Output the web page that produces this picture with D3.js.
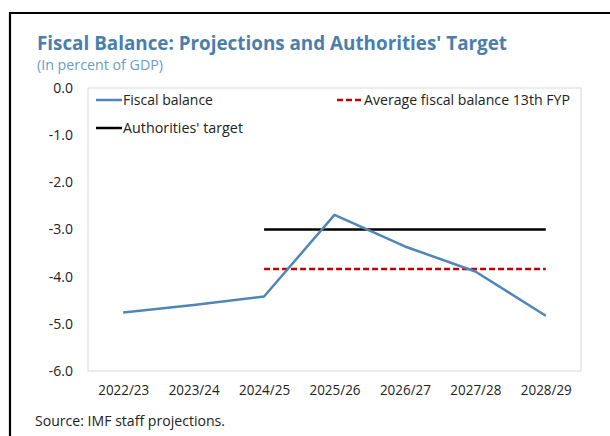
<!DOCTYPE html>
<html><head><meta charset="utf-8">
<script src="https://cdn.jsdelivr.net/npm/d3@7"></script>
<style>body{margin:0;background:#fff;} svg{display:block;}</style>
</head><body>
<svg id="c" width="610" height="436"></svg>
<script>
const categories = ["2022/23","2023/24","2024/25","2025/26","2026/27","2027/28","2028/29"];
const fiscalBalance = [-4.76, -4.6, -4.42, -2.69, -3.36, -3.89, -4.83];
const targetCats = ["2024/25","2025/26","2026/27","2027/28","2028/29"];
const authoritiesTarget = [-3.0, -3.0, -3.0, -3.0, -3.0];
const average13thFYP = [-3.84, -3.84, -3.84, -3.84, -3.84];
const yTicks = [0, -1, -2, -3, -4, -5, -6];
const seriesNames = ["Fiscal balance", "Authorities' target", "Average fiscal balance 13th FYP"];

const svg = d3.select("#c");
const font = "'Open Sans', 'Noto Sans', sans-serif";
const L = 88, R = 581, T = 88, B = 371;

// frame
svg.append("path").attr("d", "M10,440 L10,13 L612,13").attr("fill","none").attr("stroke","#000").attr("stroke-width",2.2);

// titles
svg.append("text").attr("x",37).attr("y",50).attr("font-family",font).attr("font-weight",700)
  .attr("font-size",19).attr("fill","#4a7eae").attr("textLength",470).attr("lengthAdjust","spacingAndGlyphs")
  .text("Fiscal Balance: Projections and Authorities' Target");
svg.append("text").attr("x",37).attr("y",70).attr("font-family",font)
  .attr("font-size",14).attr("fill","#6b9bc8").attr("textLength",126).attr("lengthAdjust","spacingAndGlyphs")
  .text("(In percent of GDP)");

// plot area
svg.append("rect").attr("x",L).attr("y",T).attr("width",R-L).attr("height",B-T)
  .attr("fill","#fff").attr("stroke","#d9d9d9").attr("stroke-width",1);

const x = d3.scalePoint().domain(categories).range([L, R]).padding(0.5);
const y = d3.scaleLinear().domain([-6, 0]).range([B, T]);

// y axis
const ya = svg.append("g").attr("transform",`translate(${L},0)`)
  .call(d3.axisLeft(y).tickValues(yTicks).tickFormat(d3.format(".1f")).tickSize(0).tickPadding(15));
ya.select(".domain").remove();
ya.selectAll("text").attr("font-family",font).attr("font-size",14).attr("fill","#222")
  .text(d => d3.format(".1f")(d).replace("−","-"));

// x axis
const xa = svg.append("g").attr("transform",`translate(0,${B})`)
  .call(d3.axisBottom(x).tickSize(0).tickPadding(14));
xa.select(".domain").remove();
xa.selectAll("text").attr("font-family",font).attr("font-size",14).attr("fill","#222")
  .attr("textLength",51).attr("lengthAdjust","spacingAndGlyphs");

const line = d3.line().x(d => x(d[0])).y(d => y(d[1]));

svg.append("path").datum(targetCats.map((c,i)=>[c, average13thFYP[i]]))
  .attr("d", line).attr("fill","none").attr("stroke","#c00000").attr("stroke-width",2.5)
  .attr("stroke-dasharray","6,3");
svg.append("path").datum(targetCats.map((c,i)=>[c, authoritiesTarget[i]]))
  .attr("d", line).attr("fill","none").attr("stroke","#000").attr("stroke-width",2.5);
svg.append("path").datum(categories.map((c,i)=>[c, fiscalBalance[i]]))
  .attr("d", line).attr("fill","none").attr("stroke","#4f86b8").attr("stroke-width",2.5)
  .attr("stroke-linejoin","round");

// legend
const legend = [
  {name: seriesNames[0], x: 96, y: 100, color: "#4f86b8", dash: null, w: 90},
  {name: seriesNames[1], x: 96, y: 128, color: "#000", dash: null, w: 120},
  {name: seriesNames[2], x: 337, y: 100, color: "#c00000", dash: "6,3", w: 206}
];
const lg = svg.append("g").selectAll("g").data(legend).join("g");
lg.append("line").attr("x1",d=>d.x).attr("x2",d=>d.x+26).attr("y1",d=>d.y).attr("y2",d=>d.y)
  .attr("stroke",d=>d.color).attr("stroke-width",2.5).attr("stroke-dasharray",d=>d.dash);
lg.append("text").attr("x",d=>d.x+27).attr("y",d=>d.y+5).attr("font-family",font).attr("font-size",14)
  .attr("fill","#222").attr("textLength",d=>d.w).attr("lengthAdjust","spacingAndGlyphs").text(d=>d.name);

// source
svg.append("text").attr("x",35).attr("y",426).attr("font-family",font).attr("font-size",14)
  .attr("fill","#222").attr("textLength",190).attr("lengthAdjust","spacingAndGlyphs")
  .text("Source: IMF staff projections.");
</script>
</body></html>
